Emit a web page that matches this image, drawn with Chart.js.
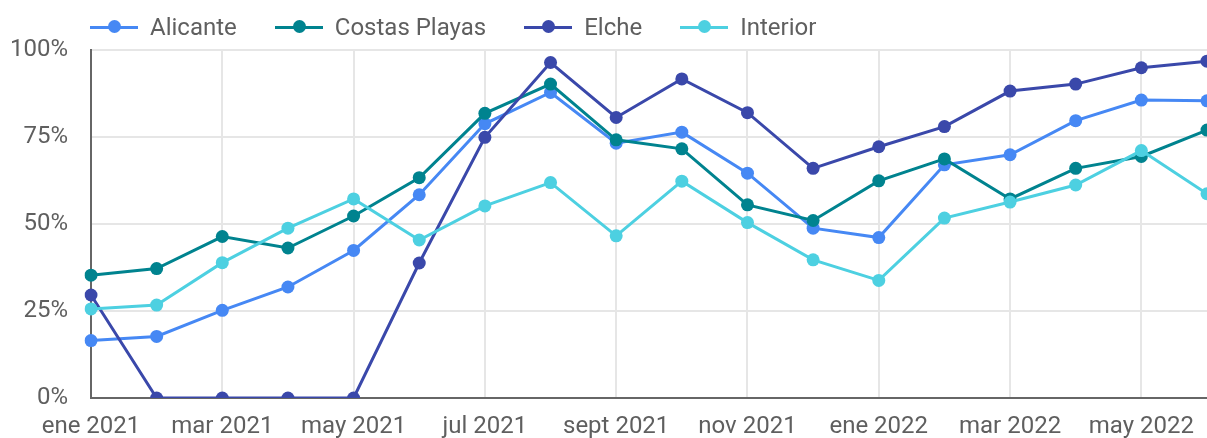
<!DOCTYPE html>
<html>
<head>
<meta charset="utf-8">
<script src="https://cdn.jsdelivr.net/npm/chart.js@4/dist/chart.umd.min.js"></script>
<style>
  html, body { margin: 0; padding: 0; background: #fff; }
  #wrap { position: relative; width: 1207px; height: 438px; }
  #legend {
    position: absolute; top: 13px; left: 90px; height: 28px;
    display: flex; align-items: center;
    font-family: Roboto, sans-serif; font-size: 24px; color: #5f5f5f;
  }
  .item { display: flex; align-items: center; margin-right: 38px; line-height: 28px; }
  .sym { position: relative; width: 48px; height: 14px; margin-right: 12px; }
  .sym .ln { position: absolute; left: 0; right: 0; top: 5.5px; height: 3px; }
  .sym .dt { position: absolute; left: 18px; top: 0; width: 13px; height: 13px; border-radius: 50%; }
</style>
</head>
<body>
<div id="wrap">
  <canvas id="chart" width="1207" height="438"></canvas>
  <div id="legend"></div>
</div>
<script>
const months = ['ene 2021', 'feb 2021', 'mar 2021', 'abr 2021', 'may 2021', 'jun 2021',
  'jul 2021', 'ago 2021', 'sept 2021', 'oct 2021', 'nov 2021', 'dic 2021',
  'ene 2022', 'feb 2022', 'mar 2022', 'abr 2022', 'may 2022', 'jun 2022'];

const seriesNames = ['Alicante', 'Costas Playas', 'Elche', 'Interior'];
const seriesColors = ['#4688F4', '#00838F', '#3A48AA', '#4DD0E1'];

const alicante = [16.5, 17.7, 25.2, 31.9, 42.4, 58.4, 78.8, 87.8, 73.2, 76.4, 64.6, 48.8, 46.1, 67.0, 69.9, 79.7, 85.6, 85.4];
const costasPlayas = [35.3, 37.2, 46.4, 43.1, 52.3, 63.3, 81.8, 90.2, 74.2, 71.6, 55.5, 51.0, 62.4, 68.7, 57.2, 66.0, 69.4, 77.0];
const elche = [29.6, 0, 0, 0, 0, 38.8, 74.9, 96.4, 80.6, 91.7, 82.0, 66.0, 72.2, 78.0, 88.2, 90.2, 94.9, 96.8];
const interior = [25.6, 26.7, 38.9, 48.8, 57.2, 45.4, 55.2, 61.9, 46.6, 62.3, 50.4, 39.7, 33.8, 51.7, 56.3, 61.2, 71.1, 58.7];

const yTicks = [0, 25, 50, 75, 100];

const allSeries = [alicante, costasPlayas, elche, interior];
const textColor = '#5f5f5f';
const tickFont = { family: 'Roboto', size: 24 };

// --- HTML legend (line + dot symbol like the original) ---
const legendBox = document.getElementById('legend');
seriesNames.forEach((name, i) => {
  const item = document.createElement('div');
  item.className = 'item';
  item.innerHTML = '<span class="sym"><span class="ln"></span><span class="dt"></span></span><span class="txt"></span>';
  item.querySelector('.ln').style.background = seriesColors[i];
  item.querySelector('.dt').style.background = seriesColors[i];
  item.querySelector('.txt').textContent = name;
  legendBox.appendChild(item);
});

// scale label padding would shrink the plot area, the original runs to the edge
const noEdgePadding = (scale) => {
  scale.paddingLeft = 0; scale.paddingRight = 0;
  scale.paddingTop = 0; scale.paddingBottom = 0;
};

// --- CHART ---
const datasets = allSeries.map((values, i) => ({
  label: seriesNames[i],
  data: values,
  borderColor: seriesColors[i],
  backgroundColor: seriesColors[i],
  pointBackgroundColor: seriesColors[i],
  pointBorderWidth: 0,
  pointRadius: 6.5,
  borderWidth: 3,
  tension: 0,
  order: allSeries.length - 1 - i
}));

new Chart(document.getElementById('chart'), {
  type: 'line',
  data: { labels: months, datasets },
  options: {
    responsive: false,
    animation: false,
    devicePixelRatio: 1,
    layout: { autoPadding: false, padding: { top: 50, right: 0, left: 0, bottom: 0 } },
    plugins: { legend: { display: false }, tooltip: { enabled: false } },
    scales: {
      x: {
        offset: false,
        afterFit: (scale) => { scale.height = 40; noEdgePadding(scale); },
        grid: {
          drawTicks: false,
          lineWidth: 2,
          color: (ctx) => (ctx.index % 2 === 0 ? '#e6e6e6' : 'rgba(0,0,0,0)')
        },
        border: { color: '#666', width: 2 },
        ticks: {
          autoSkip: false, maxRotation: 0, padding: 15,
          color: textColor, font: tickFont,
          callback: function (value, index) { return index % 2 === 0 ? this.getLabelForValue(value) : ''; }
        }
      },
      y: {
        min: 0, max: 100,
        afterFit: (scale) => { scale.width = 91; noEdgePadding(scale); },
        afterBuildTicks: (scale) => { scale.ticks = yTicks.map(v => ({ value: v })); },
        grid: { drawTicks: false, lineWidth: 2, color: '#e6e6e6' },
        border: { color: '#666', width: 2 },
        ticks: { padding: 23, color: textColor, font: tickFont, callback: (v) => v + '%' }
      }
    }
  }
});
</script>
</body>
</html>
